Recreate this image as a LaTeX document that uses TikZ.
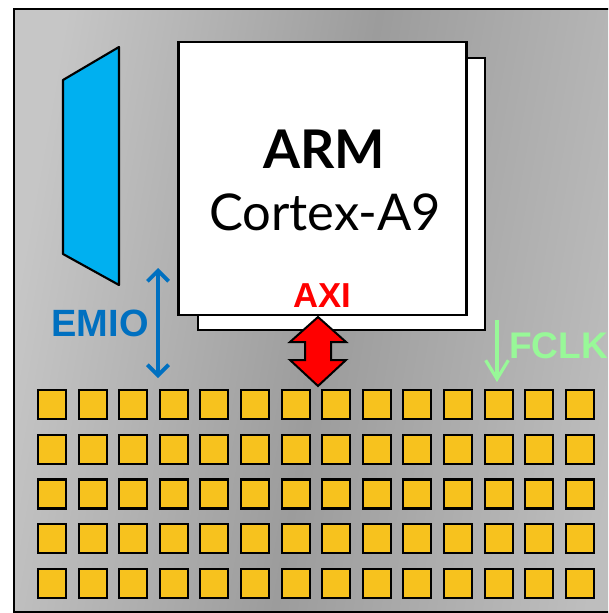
\documentclass[tikz,border=0pt]{standalone}
\usepackage{fontspec}
\usetikzlibrary{arrows.meta}
\newfontfamily\gillfont{Lato}
\newfontfamily\labfont{Liberation Sans}
\definecolor{bgl}{HTML}{C6C6C6}
\definecolor{bgd}{HTML}{9C9C9C}
\definecolor{bgr}{HTML}{BEBEBE}
\definecolor{padyel}{HTML}{F7C21E}
\definecolor{ioblue}{HTML}{00B0F0}
\definecolor{emioblue}{HTML}{0070C0}
\definecolor{fclkgreen}{HTML}{98F898}
\tikzset{
  cpubox/.style={draw=black, line width=2.2pt, fill=white},
  pad/.style={draw=black, line width=1.6pt, fill=padyel, minimum width=28*0.75pt, minimum height=29*0.75pt, inner sep=0pt, outer sep=0pt},
  lab/.style={font=\labfont\bfseries, inner sep=0pt, anchor=base},
}
\begin{document}
\begin{tikzpicture}[x=0.75pt, y=-0.75pt]
\useasboundingbox (0,0) rectangle (608,613);
% background chip
\begin{scope}
\clip (0,0) rectangle (608,613);
\shade[top color=bgl, bottom color=bgr, middle color=bgd, shading angle=80] (14,9) rectangle (640,612);
\draw[line width=1.5pt] (640,9) -- (14,9) -- (14,612) -- (640,612);
\end{scope}
% blue IO shape
\draw[fill=ioblue, line width=1.6pt, line join=round] (63,80) -- (119,47) -- (119,285) -- (63,254) -- cycle;
% ARM boxes
\node[cpubox, minimum width=287*0.75pt, minimum height=272*0.75pt, inner sep=0pt] (back) at (341.5,194) {};
\node[cpubox, minimum width=288*0.75pt, minimum height=273*0.75pt, inner sep=0pt] (front) at (322.5,178.5) {};
\node[font=\gillfont\bfseries\fontsize{40}{42}\selectfont, anchor=base, inner sep=0pt] (arm) at (324,168) {ARM};
\node[font=\gillfont\fontsize{38}{40}\selectfont, anchor=base, inner sep=0pt] (cortex) at (325,230) {Cortex-A9};
% labels
\node[lab, text=red, font=\labfont\bfseries\fontsize{26}{28}\selectfont] (axi) at (322,307) {AXI};
\node[lab, text=emioblue, font=\labfont\bfseries\fontsize{28.5}{30}\selectfont] (emio) at (100,336) {EMIO};
\node[lab, text=fclkgreen, anchor=base west, font=\labfont\bfseries\fontsize{27.8}{30}\selectfont] (fclk) at (509,358) {FCLK};
% EMIO arrow
\coordinate (emtop) at (158,268);
\coordinate (embot) at (158,378);
\draw[emioblue, line width=2.8pt, {Straight Barb[length=8pt,width=16pt]}-{Straight Barb[length=8pt,width=16pt]}] (emtop) -- (embot);
% FCLK arrow
\coordinate (fctop) at (497,320);
\coordinate (fcbot) at (497,382);
\draw[fclkgreen, line width=2.4pt, -{Straight Barb[length=14pt,width=17pt]}] (fctop) -- (fcbot);
% AXI double arrow
\draw[fill=red, line width=1.5pt, line join=miter] (318,317) -- (346,342) -- (331,342) -- (331,360) -- (346,360) -- (318,386) -- (290,360) -- (305,360) -- (305,342) -- (290,342) -- cycle;
% pad grid
\foreach \j in {0,...,4} {
  \foreach \i in {0,...,13} {
    \node[pad] (p\i-\j) at ({52+40.6*\i},{404.5+44.75*\j}) {};
  }
}
\end{tikzpicture}
\end{document}
